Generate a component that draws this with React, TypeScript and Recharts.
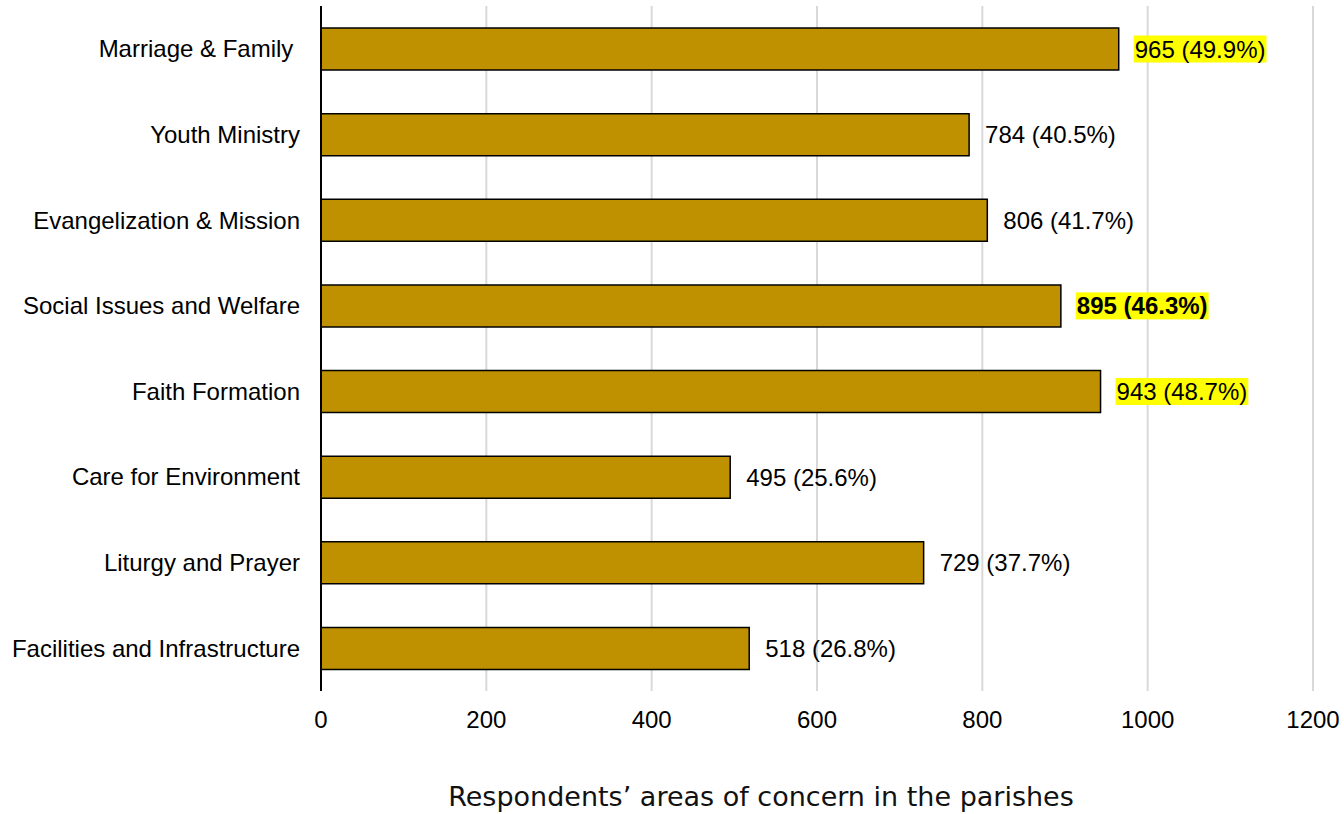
import React from 'react';
import { BarChart, Bar, XAxis, YAxis, CartesianGrid, LabelList } from 'recharts';

const categories = [
  'Marriage & Family\u00A0',
  'Youth Ministry',
  'Evangelization & Mission',
  'Social Issues and Welfare',
  'Faith Formation',
  'Care for Environment',
  'Liturgy and Prayer',
  'Facilities and Infrastructure',
];
const counts = [965, 784, 806, 895, 943, 495, 729, 518];
const percents = ['49.9%', '40.5%', '41.7%', '46.3%', '48.7%', '25.6%', '37.7%', '26.8%'];
const highlighted = [true, false, false, true, true, false, false, false];
const boldLabels = [false, false, false, true, false, false, false, false];
const xTicks = [0, 200, 400, 600, 800, 1000, 1200];
const axisTitle = 'Respondents\u2019 areas of concern in the parishes';

const data = categories.map((name, i) => ({
  name,
  value: counts[i],
  label: `${counts[i]} (${percents[i]})`,
  hl: highlighted[i],
  bold: boldLabels[i],
}));

const FONT = '"Liberation Sans", Arial, Helvetica, sans-serif';

let ctx: CanvasRenderingContext2D | null = null;
function measure(text: string, bold: boolean): number {
  if (!ctx) {
    const c = document.createElement('canvas');
    ctx = c.getContext('2d');
  }
  if (!ctx) return text.length * 12;
  ctx.font = `${bold ? 'bold ' : ''}24px "Liberation Sans"`;
  return ctx.measureText(text).width;
}

const ValueLabel = (props: any) => {
  const { x, y, width, height, index } = props;
  const d = data[index];
  const x0 = Number(x) + Number(width) + 16;
  const cy = Number(y) + Number(height) / 2;
  const w = measure(d.label, d.bold);
  return (
    <g>
      {d.hl && <rect x={x0 - 1} y={cy - 13.5} width={w + 2} height={27} fill="#FFFF00" />}
      <text
        x={x0}
        y={cy + 8.5}
        fontFamily={FONT}
        fontSize={24}
        fontWeight={d.bold ? 'bold' : 'normal'}
        fill="#000"
      >
        {d.label}
      </text>
    </g>
  );
};

const TitleLabel = () => (
  <text
    x={761}
    y={806}
    textAnchor="middle"
    fontFamily='"DejaVu Sans", "Noto Sans", sans-serif'
    fontSize={27}
    fill="#111"
  >
    {axisTitle}
  </text>
);

export default function App() {
  return (
    <div style={{ position: 'absolute', left: 0, top: 0, width: 1344, height: 814, background: '#fff' }}>
      <BarChart
        width={1344}
        height={814}
        data={data}
        layout="vertical"
        margin={{ top: 6, right: 31, left: 0, bottom: 0 }}
        barCategoryGap="50%"
      >
        <CartesianGrid horizontal={false} vertical stroke="#D9D9D9" strokeWidth={2} />
        <XAxis
          type="number"
          domain={[0, 1200]}
          ticks={xTicks}
          axisLine={false}
          tickLine={false}
          tickSize={0}
          tickMargin={20}
          height={123}
          interval={0}
          tick={{ fontFamily: FONT, fontSize: 24, fill: '#000' }}
          label={{ content: <TitleLabel /> }}
        />
        <YAxis
          type="category"
          dataKey="name"
          width={321}
          axisLine={{ stroke: '#000', strokeWidth: 2 }}
          tickLine={false}
          tickSize={0}
          tickMargin={21}
          interval={0}
          tick={{ fontFamily: FONT, fontSize: 24, fill: '#000' }}
        />
        <Bar dataKey="value" fill="#BF9000" stroke="#000" strokeWidth={1.5} barSize={42} isAnimationActive={false}>
          <LabelList dataKey="label" content={<ValueLabel />} />
        </Bar>
      </BarChart>
    </div>
  );
}
